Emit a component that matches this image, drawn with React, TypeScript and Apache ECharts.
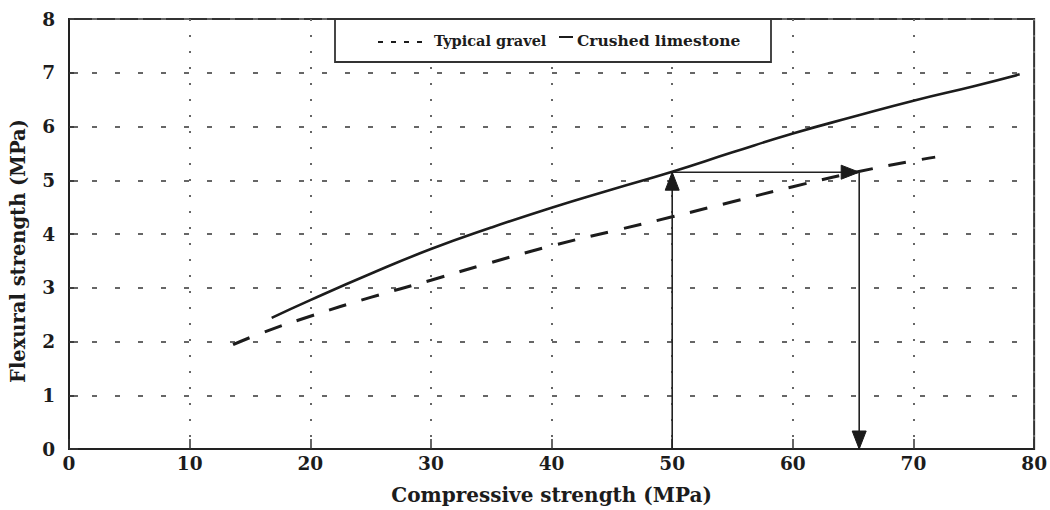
import React, { useEffect, useRef } from "react";
import * as echarts from "echarts";

const xTicks = [0, 10, 20, 30, 40, 50, 60, 70, 80];
const yTicks = [0, 1, 2, 3, 4, 5, 6, 7, 8];

const gravelX = [13.6, 16, 20, 25, 30, 35, 40, 45, 50, 55, 60, 65, 70, 71.8];
const gravelY = [1.94, 2.16, 2.47, 2.82, 3.14, 3.47, 3.78, 4.05, 4.32, 4.6, 4.88, 5.14, 5.36, 5.43];

const limestoneX = [16.8, 20, 25, 30, 35, 40, 45, 50, 55, 60, 65, 70, 75, 78.8];
const limestoneY = [2.44, 2.77, 3.26, 3.72, 4.12, 4.49, 4.83, 5.16, 5.52, 5.87, 6.18, 6.48, 6.75, 6.97];

const arrowPath = [
  [50, 0],
  [50, 5.15],
  [65.5, 5.15],
  [65.5, 0],
];

const legendNames = ["Typical gravel", "Crushed limestone"];
const xName = "Compressive strength (MPa)";
const yName = "Flexural strength (MPa)";

const FONT = "'DejaVu Serif', 'Liberation Serif', serif";
const INK = "#1c1c1c";

export default function App() {
  const ref = useRef<HTMLDivElement>(null);

  useEffect(() => {
    document.body.style.margin = "0";
    const chart = echarts.init(ref.current!, null, { renderer: "svg" });

    const pair = (xs: number[], ys: number[]) => xs.map((x, i) => [x, ys[i]]);

    const option: any = {
      animation: false,
      backgroundColor: "#ffffff",
      grid: {
        left: 67,
        right: 15,
        top: 19,
        bottom: 57,
        show: true,
        borderColor: "#333",
        borderWidth: 2,
        backgroundColor: "transparent",
      },
      xAxis: {
        type: "value",
        min: 0,
        max: 80,
        interval: 10,
        name: xName,
        nameLocation: "middle",
        nameGap: 36,
        nameTextStyle: { fontFamily: FONT, fontWeight: "bold", fontSize: 20, color: INK },
        axisLine: { show: true, lineStyle: { color: "#222", width: 2 } },
        axisTick: { show: true, inside: true, length: 10, lineStyle: { color: "#333", width: 1.5 } },
        axisLabel: {
          fontFamily: FONT,
          fontWeight: "bold",
          fontSize: 18.5,
          color: INK,
          margin: 5,
          formatter: (v: number) => (xTicks.includes(v) ? String(v) : ""),
        },
        splitLine: {
          show: true,
          lineStyle: { color: "#666", width: 2, type: [2, 14] },
        },
      },
      yAxis: {
        type: "value",
        min: 0,
        max: 8,
        interval: 1,
        name: yName,
        nameLocation: "middle",
        nameGap: 41,
        nameRotate: 90,
        nameTextStyle: {
          fontFamily: FONT,
          fontWeight: "bold",
          fontSize: 19.5,
          color: INK,
          padding: [0, 34, 0, 0],
        },
        axisLine: { show: true, lineStyle: { color: "#222", width: 2 } },
        axisTick: { show: true, inside: true, length: 9, lineStyle: { color: "#333", width: 1.5 } },
        axisLabel: {
          fontFamily: FONT,
          fontWeight: "bold",
          fontSize: 18.5,
          color: INK,
          margin: 14,
          formatter: (v: number) => (yTicks.includes(v) ? String(v) : ""),
        },
        splitLine: {
          show: true,
          lineStyle: { color: "#666", width: 2, type: [5, 18] },
        },
      },
      series: [
        {
          name: legendNames[0],
          type: "line",
          data: pair(gravelX, gravelY),
          smooth: true,
          showSymbol: false,
          lineStyle: { color: INK, width: 3, type: [18, 16] },
          z: 3,
        },
        {
          name: legendNames[1],
          type: "line",
          data: pair(limestoneX, limestoneY),
          smooth: true,
          showSymbol: false,
          lineStyle: { color: INK, width: 2.6 },
          z: 3,
        },
        {
          type: "custom",
          data: [arrowPath[0]],
          z: 4,
          renderItem: (_params: any, api: any) => {
            const pts = arrowPath.map((p) => api.coord(p));
            const children: any[] = [
              {
                type: "polyline",
                shape: { points: pts },
                style: { stroke: "#222", lineWidth: 1.6, fill: null },
              },
            ];
            const L = 18;
            const W = 7;
            for (let i = 0; i < pts.length - 1; i++) {
              const [x0, y0] = pts[i];
              const [x1, y1] = pts[i + 1];
              const len = Math.hypot(x1 - x0, y1 - y0) || 1;
              const dx = (x1 - x0) / len;
              const dy = (y1 - y0) / len;
              const bx = x1 - dx * L;
              const by = y1 - dy * L;
              children.push({
                type: "polygon",
                shape: {
                  points: [
                    [x1, y1],
                    [bx - dy * W, by + dx * W],
                    [bx + dy * W, by - dx * W],
                  ],
                },
                style: { fill: "#1a1a1a", stroke: "#1a1a1a", lineWidth: 1 },
              });
            }
            return { type: "group", children };
          },
        },
      ],
      graphic: [
        {
          type: "rect",
          shape: { x: 335, y: 19, width: 436, height: 43 },
          style: { fill: "#ffffff", stroke: "#333", lineWidth: 1.8 },
          z: 10,
        },
        ...[378, 391, 404, 417].map((x) => ({
          type: "line",
          shape: { x1: x, y1: 42, x2: x + 5, y2: 42 },
          style: { stroke: INK, lineWidth: 2 },
          z: 11,
        })),
        {
          type: "text",
          x: 434,
          y: 40,
          style: {
            text: legendNames[0],
            fontFamily: FONT,
            fontWeight: "bold",
            fontSize: 14.5,
            fill: INK,
            verticalAlign: "middle",
          },
          z: 11,
        },
        {
          type: "line",
          shape: { x1: 559, y1: 37, x2: 573, y2: 37 },
          style: { stroke: INK, lineWidth: 2 },
          z: 11,
        },
        {
          type: "text",
          x: 577,
          y: 40,
          style: {
            text: legendNames[1],
            fontFamily: FONT,
            fontWeight: "bold",
            fontSize: 15.5,
            fill: INK,
            verticalAlign: "middle",
          },
          z: 11,
        },
      ],
    };

    chart.setOption(option);
    return () => chart.dispose();
  }, []);

  return <div ref={ref} style={{ width: 1050, height: 510 }} />;
}
